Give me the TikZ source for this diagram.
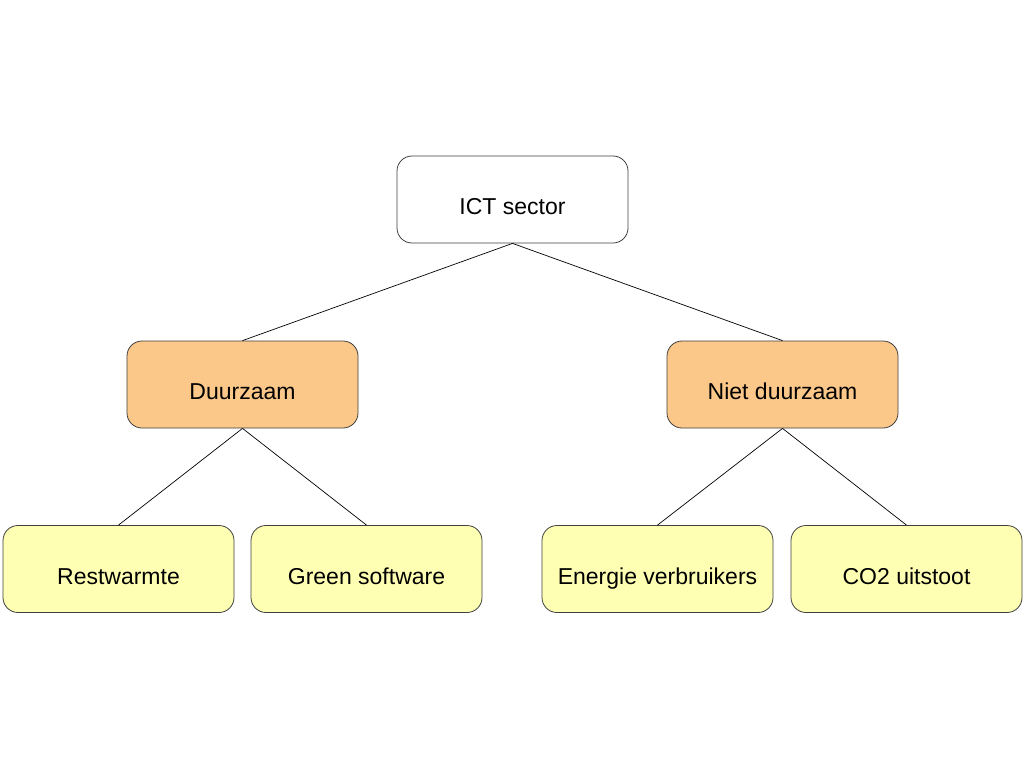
\documentclass[tikz,border=0pt]{standalone}
\usepackage{fontspec}
\setmainfont{Liberation Sans}
\definecolor{orangefill}{HTML}{FCC88A}
\definecolor{yellowfill}{HTML}{FFFFB3}
\definecolor{edgegray}{HTML}{404040}
\begin{document}
\begin{tikzpicture}[x=1pt,y=-1pt,
  box/.style={draw=edgegray,line width=0.8pt,rounded corners=15pt,minimum width=231pt,minimum height=87pt,inner sep=0pt,
    font=\fontsize{23}{26}\selectfont,text depth=0pt,text height=15pt},
  topbox/.style={box,fill=white},
  midbox/.style={box,fill=orangefill},
  leafbox/.style={box,fill=yellowfill},
  link/.style={draw=black,line width=0.7pt}]
\useasboundingbox (0,0) rectangle (1024,768);
\fill[white] (0,0) rectangle (1024,768);
\node[topbox] (ict) at (512.5,199.5) {\raisebox{-7.5pt}{ICT sector}};
\node[midbox] (duur) at (242.5,384.5) {\raisebox{-7.5pt}{Duurzaam}};
\node[midbox] (niet) at (782.5,384.5) {\raisebox{-7.5pt}{Niet duurzaam}};
\node[leafbox] (rest) at (118.5,569) {\raisebox{-7.5pt}{Restwarmte}};
\node[leafbox] (green) at (366.5,569) {\raisebox{-7.5pt}{Green software}};
\node[leafbox] (energ) at (657.5,569) {\raisebox{-7.5pt}{Energie verbruikers}};
\node[leafbox] (co2) at (906.5,569) {\raisebox{-7.5pt}{CO2 uitstoot}};
\draw[link] (ict.south) -- (duur.north);
\draw[link] (ict.south) -- (niet.north);
\draw[link] (duur.south) -- (rest.north);
\draw[link] (duur.south) -- (green.north);
\draw[link] (niet.south) -- (energ.north);
\draw[link] (niet.south) -- (co2.north);
\end{tikzpicture}
\end{document}
